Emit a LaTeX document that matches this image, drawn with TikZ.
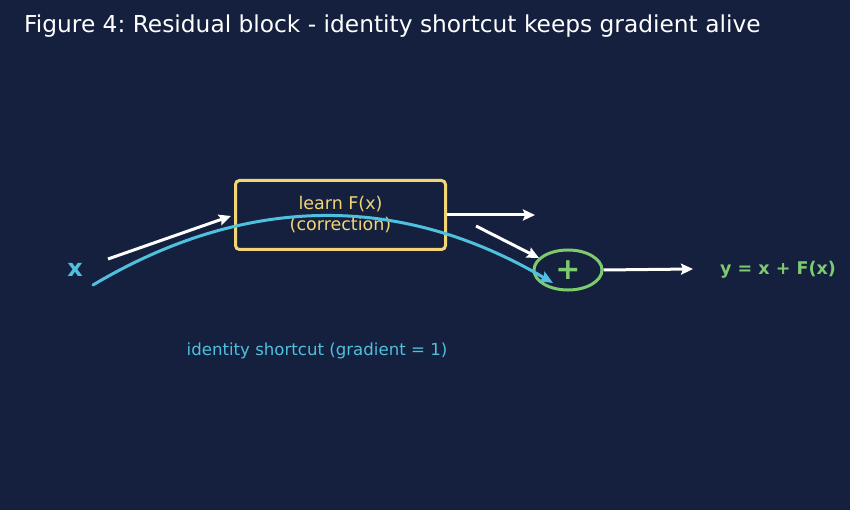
\documentclass[tikz,border=0pt]{standalone}
\usepackage{fontspec}
\setmainfont{DejaVu Sans}
\frenchspacing
\usetikzlibrary{arrows.meta,shapes.geometric}
\definecolor{bgnavy}{RGB}{21,32,62}
\definecolor{boxyellow}{RGB}{242,214,117}
\definecolor{shortcyan}{RGB}{79,192,221}
\definecolor{sumgreen}{RGB}{125,203,110}
\tikzset{
	flow/.style={draw=white, line width=3pt, -{Stealth[length=12pt,width=11pt,inset=2pt]}},
	learnbox/.style={draw=boxyellow, line width=3pt, rounded corners=4pt, minimum width=210pt, minimum height=69pt, text=boxyellow, font=\fontsize{17.5}{21}\selectfont, align=center},
	sumnode/.style={ellipse, draw=sumgreen, line width=3pt, minimum width=68pt, minimum height=40pt, inner sep=0pt, text=sumgreen, font=\fontsize{30}{30}\selectfont\bfseries}
}
\begin{document}
\begin{tikzpicture}[x=1pt,y=-1pt]
		%background
			\fill[bgnavy] (0,0) rectangle (850,510);
			\useasboundingbox (0,0) rectangle (850,510);
			\node[anchor=base west, inner sep=0pt, text=white, font=\fontsize{23.3}{26}\selectfont] (title) at (24,33) {Figure 4: Residual block - identity shortcut keeps gradient alive};
		%nodes
			\node[text=shortcyan, font=\fontsize{24}{24}\selectfont\bfseries] (x) at (75,270) {x};
			\node[learnbox] (learn) at (340.5,215) {learn F(x)\\(correction)};
			\node[sumnode] (sum) at (568,270) {+};
			\node[text=sumgreen, font=\fontsize{17.5}{20}\selectfont\bfseries] (y) at (778,270) {y = x + F(x)};
			\node[text=shortcyan, font=\fontsize{16.6}{19}\selectfont] (shortlbl) at (317,351) {identity shortcut (gradient = 1)};
		%free ends
			\coordinate (xout) at (108,259);
			\coordinate (xin) at (231,216);
			\coordinate (fout) at (535,215);
			\coordinate (fin) at (476,226);
			\coordinate (sumin) at (539,258);
			\coordinate (yin) at (693,269);
			\coordinate (shortstart) at (93,285);
			\coordinate (shortend) at (553,283);
		%arrows
			\draw[flow] (xout) -- (xin);
			\draw[flow] (learn.east) -- (fout);
			\draw[flow] (fin) -- (sumin);
			\draw[flow] (sum.east) -- (yin);
		%shortcut curve
			\draw[draw=shortcyan, line width=3pt, line cap=round, -{Stealth[length=13pt,width=11pt,inset=2pt]}] (shortstart) .. controls (246,194) and (400,193) .. (shortend);
	\end{tikzpicture}
\end{document}
